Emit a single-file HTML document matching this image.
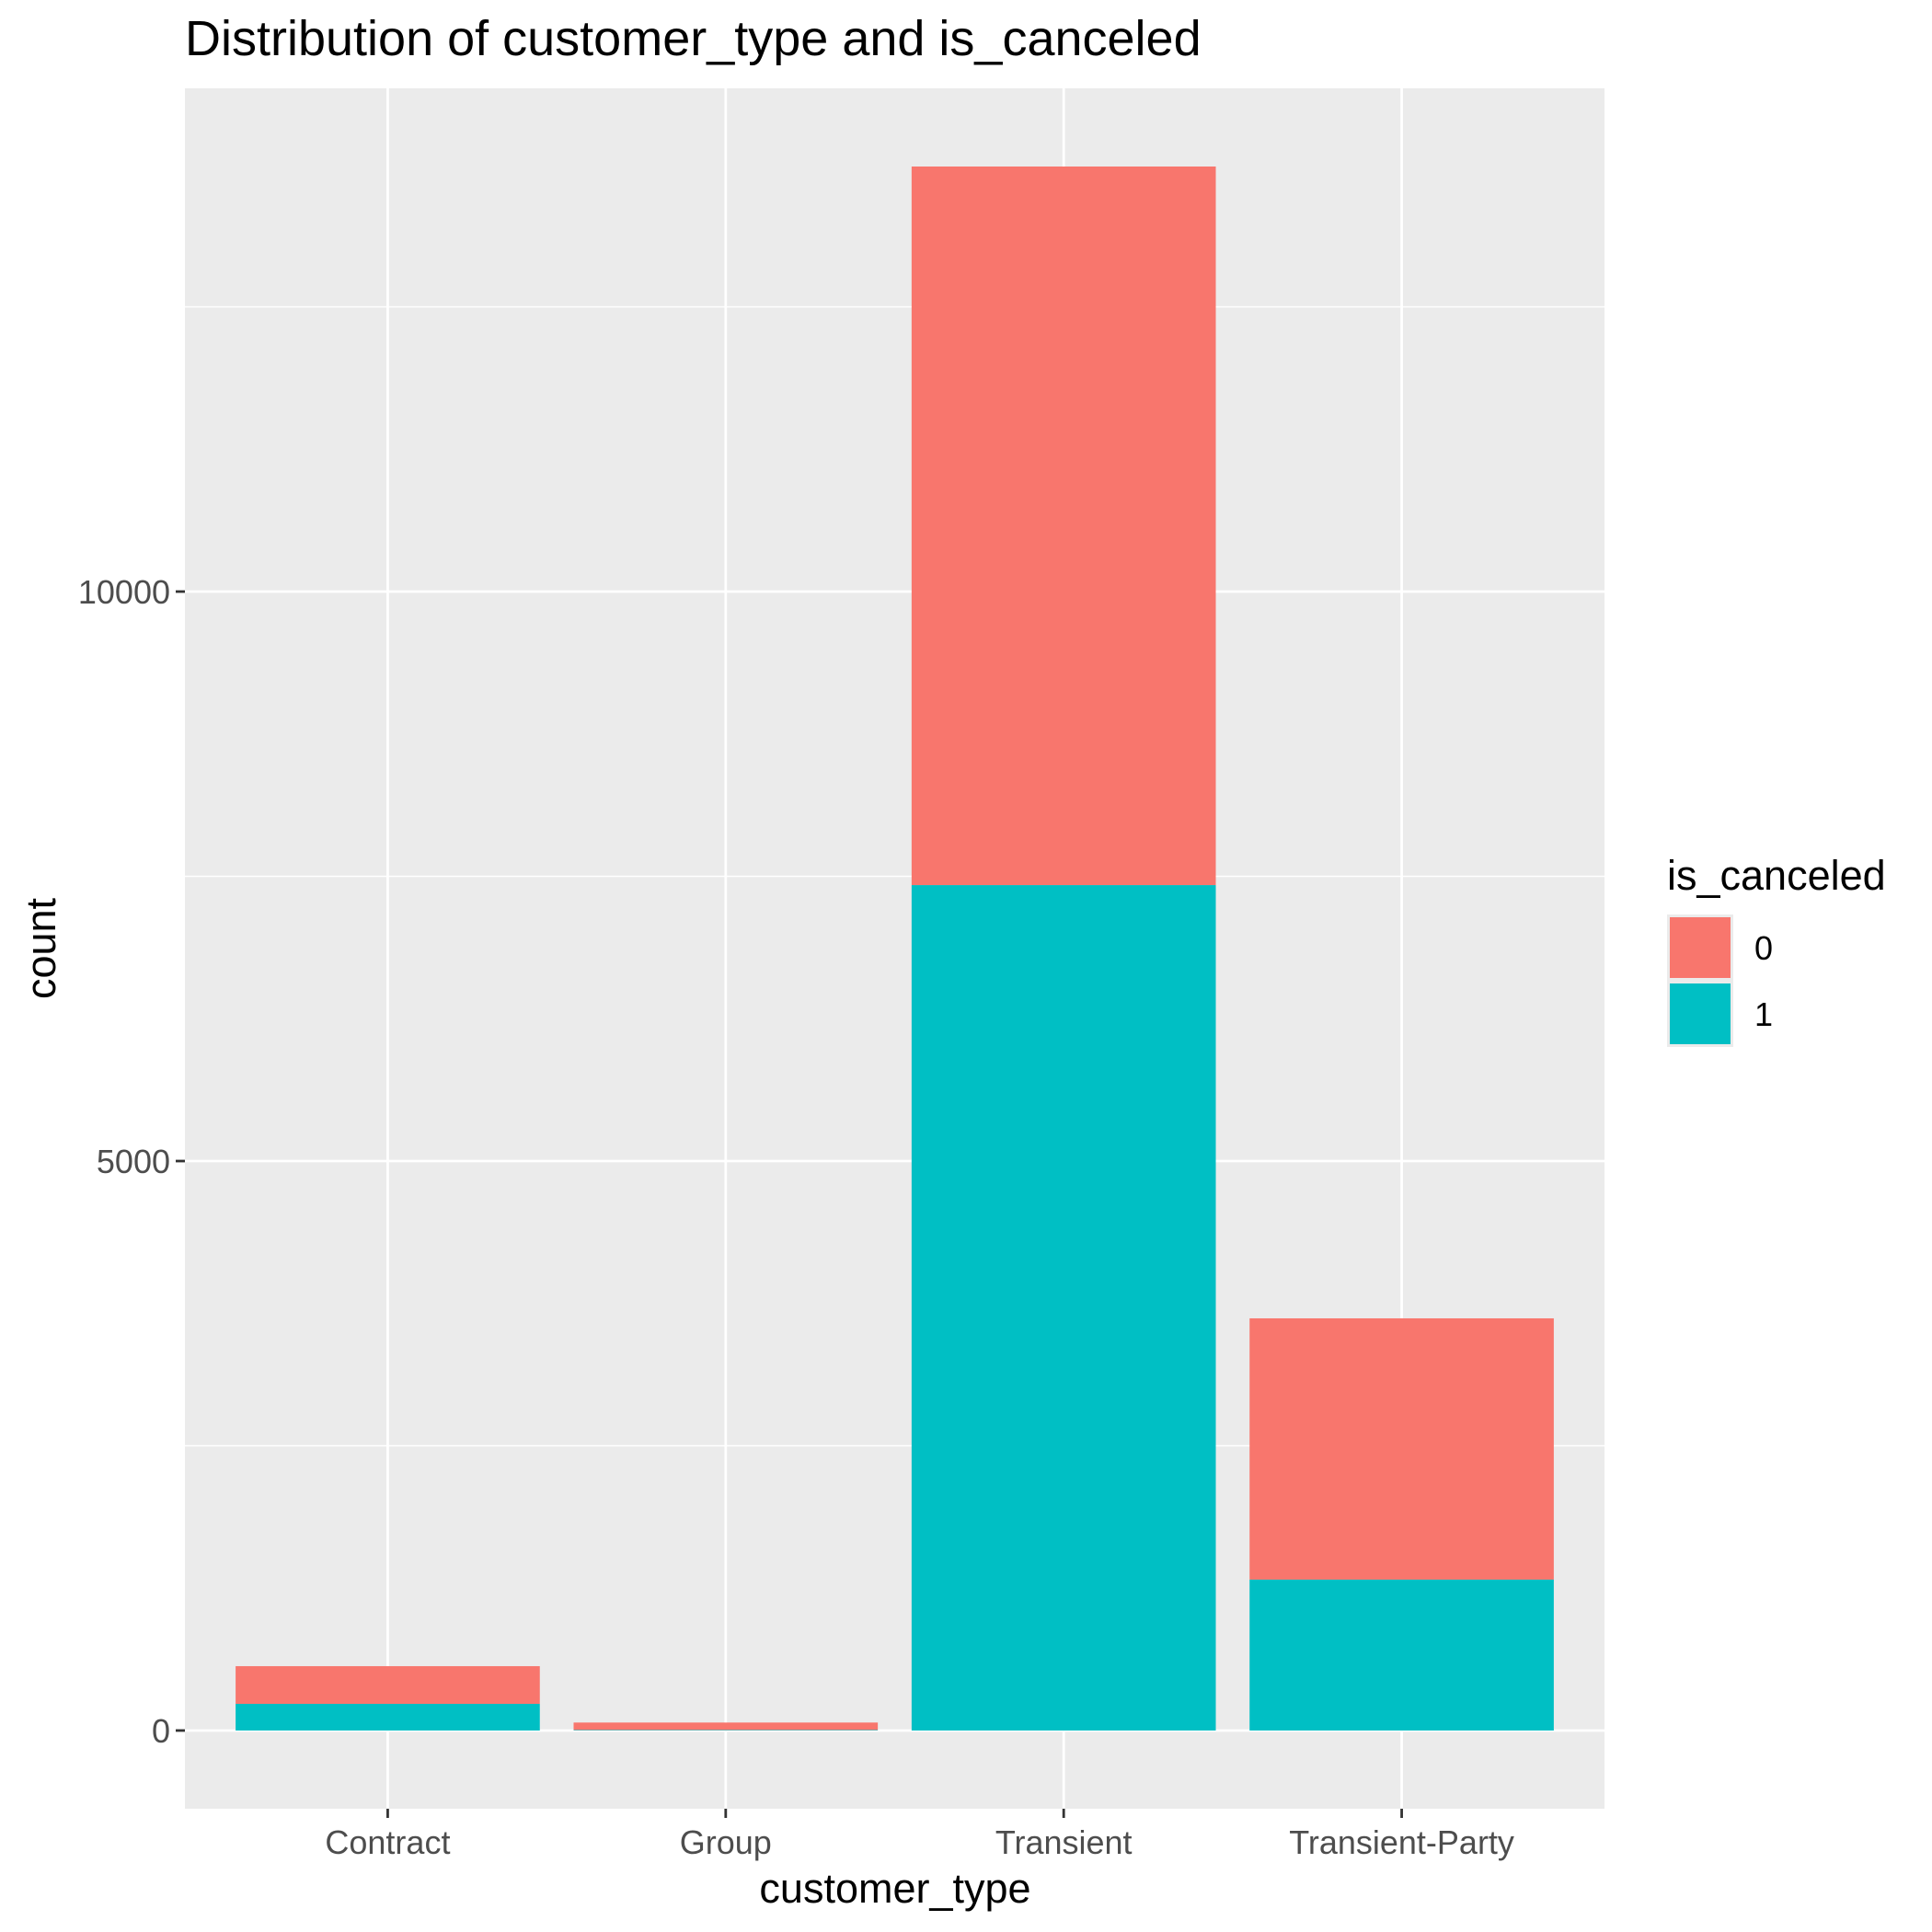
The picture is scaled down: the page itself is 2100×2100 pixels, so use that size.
<!DOCTYPE html>
<html><head><meta charset="utf-8"><style>
html,body{margin:0;padding:0;background:#fff;}
svg{display:block;font-family:"Liberation Sans",Arial,sans-serif;}
</style></head><body>
<svg id="chart" width="2100" height="2100" viewBox="0 0 2100 2100">
<rect width="2100" height="2100" fill="#fff"/>
<text x="201" y="60" font-size="54" fill="#000">Distribution of customer_type and is_canceled</text>
<g id="plot"></g>
<text x="973" y="2068" font-size="45" text-anchor="middle" fill="#000">customer_type</text>
<text transform="translate(60,1031) rotate(-90)" font-size="45" text-anchor="middle" fill="#000">count</text>
<g>
<text x="1812" y="967" font-size="45" fill="#000">is_canceled</text>
<rect x="1812" y="994" width="72" height="72" fill="#ebebeb"/>
<rect x="1815" y="997" width="66" height="66" fill="#F8766D"/>
<text x="1907" y="1043" font-size="36" fill="#000">0</text>
<rect x="1812" y="1066" width="72" height="72" fill="#ebebeb"/>
<rect x="1815" y="1069" width="66" height="66" fill="#00BFC4"/>
<text x="1907" y="1115" font-size="36" fill="#000">1</text>
</g>
</svg>
<script>
const categories = ["Contract", "Group", "Transient", "Transient-Party"];
const canceled = [234, 5, 7423, 1325];
const notCanceled = [331, 65, 6309, 2294];
const yTicks = [0, 5000, 10000];
const yTickLabels = ["0", "5000", "10000"];

const NS = "http://www.w3.org/2000/svg";
const L = 201, R = 1744, T = 96, B = 1966;
const totals = categories.map((c, i) => canceled[i] + notCanceled[i]);
const ymax = Math.max(...totals);
const yLo = -0.05 * ymax, yHi = ymax * 1.05;
const y = v => B - (v - yLo) / (yHi - yLo) * (B - T);
const unit = (R - L) / (categories.length + 0.2);
const x = i => L + (i + 0.6) * unit;
const g = document.getElementById("plot");
function mk(tag, attrs) { const e = document.createElementNS(NS, tag); for (const k in attrs) e.setAttribute(k, attrs[k]); g.appendChild(e); return e; }

const bg = mk("rect", {x: L, y: T, width: R - L, height: B - T, fill: "#ebebeb"});


const step = yTicks[1] - yTicks[0];
for (let v = yTicks[0] - step / 2; v <= yHi; v += step) {
  if (v < yLo) continue;
  const ln = mk("line", {x1: L, x2: R, y1: y(v), y2: y(v), stroke: "#fff", "stroke-width": 1.4});
  
  
}
yTicks.forEach((v, i) => {
  const ln = mk("line", {x1: L, x2: R, y1: y(v), y2: y(v), stroke: "#fff", "stroke-width": 2.8});
  
  
  const tk = mk("line", {x1: L - 10, x2: L, y1: y(v), y2: y(v), stroke: "#333", "stroke-width": 2.8});
  
  
  const t = mk("text", {x: L - 16, y: y(v) + 13, "font-size": 36, fill: "#4d4d4d", "text-anchor": "end"});
  t.textContent = yTickLabels[i];
  
  
});
categories.forEach((c, i) => {
  const ln = mk("line", {x1: x(i), x2: x(i), y1: T, y2: B, stroke: "#fff", "stroke-width": 2.8});
  
  
});
const bw = unit * 0.9;
categories.forEach((c, i) => {
  const r1 = mk("rect", {x: x(i) - bw / 2, y: y(canceled[i]), width: bw, height: y(0) - y(canceled[i]), fill: "#00BFC4"});
  
  
  const r0 = mk("rect", {x: x(i) - bw / 2, y: y(totals[i]), width: bw, height: y(canceled[i]) - y(totals[i]), fill: "#F8766D"});
  
  
  const tk = mk("line", {x1: x(i), x2: x(i), y1: B, y2: B + 10, stroke: "#333", "stroke-width": 2.8});
  
  
  const t = mk("text", {x: x(i), y: B + 49, "font-size": 36, fill: "#4d4d4d", "text-anchor": "middle"});
  t.textContent = c;
  
  
});
</script>
</body></html>
